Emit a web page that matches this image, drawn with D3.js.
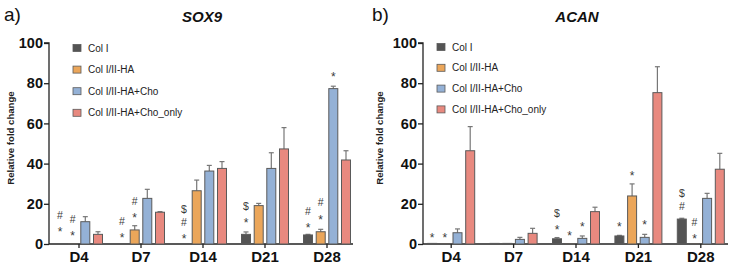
<!DOCTYPE html>
<html><head><meta charset="utf-8">
<script src="https://cdn.jsdelivr.net/npm/d3@7"></script>
<style>body{margin:0;background:#fff}svg{display:block}text{font-family:"Liberation Sans",Arial,sans-serif}</style>
</head><body>
<script>
const days = ["D4","D7","D14","D21","D28"];
const seriesNames = ["Col I","Col I/II-HA","Col I/II-HA+Cho","Col I/II-HA+Cho_only"];
const colors = ["#545454","#EBA65A","#94B1D6","#E8897F"];
const yTicks = [0,20,40,60,80,100];

// SOX9 means and upper error values, indexed [series][day]
const sox9Mean = [
  [0.2,0.2,0.2,4.8,4.5],
  [0.2,7.0,26.5,19.1,6.1],
  [11.1,22.7,36.3,37.6,77.3],
  [4.8,15.8,37.6,47.3,41.8]
];
const sox9Err = [
  [0,0,0,1.2,0.3],
  [0,2.1,5.3,1.1,1.2],
  [2.5,4.5,2.8,7.8,1.2],
  [1.3,0.3,3.4,10.6,4.6]
];
// ACAN
const acanMean = [
  [0.3,0.3,2.6,4.0,12.4],
  [0.2,0.3,0.2,23.9,0.2],
  [5.6,2.3,2.8,3.3,22.7],
  [46.4,5.3,16.1,75.3,37.2]
];
const acanErr = [
  [0,0,0.6,0.3,0.4],
  [0,0,0,6.0,0],
  [1.9,1.0,1.2,1.5,2.5],
  [12.0,2.5,2.2,12.9,7.9]
];
// significance marks: [dayIndex, seriesIndex, symbols bottom-to-top, y level (value units) of lowest symbol]
const sox9Marks = [
  [0,0,["*","#"],7.5],[0,1,["*","#"],5.5],
  [1,0,["*","#"],4.5],[1,1,["*","#"],14.8],
  [2,0,["*","#","$"],4.0],
  [3,0,["*","$"],12.3],
  [4,0,["*","#"],9.5],[4,1,["*","#"],13.9],[4,2,["*"],84.9]
];
const acanMarks = [
  [0,0,["*"],4.5],[0,1,["*"],4.5],
  [2,0,["*","$"],8.6],[2,1,["*"],5.6],[2,2,["*"],10.3],
  [3,0,["*"],10.3],[3,1,["*"],35.7],[3,2,["*"],11.4],
  [4,0,["#","$"],18.6],[4,1,["*","#"],4.0]
];

const W=733,H=267;
const svg=d3.select("body").append("svg").attr("width",W).attr("height",H);

function panel(opt){
  const g=svg.append("g");
  const y=d3.scaleLinear().domain([0,100]).range([244,43]);
  const x=d3.scaleBand().domain(days).range([opt.x0,opt.x0+5*opt.step]).paddingInner(0).paddingOuter(0);
  const off=[-19,-6.3,6.3,19];
  const bw=9;
  const ya=g.append("g").attr("transform",`translate(${opt.ax},0)`)
    .call(d3.axisLeft(y).tickValues(yTicks).tickSize(5).tickPadding(1));
  ya.select(".domain").attr("stroke","#222").attr("stroke-width",1.3).attr("d",`M-5,${y(100)}H0V${y(0)}`);
  ya.selectAll(".tick line").attr("stroke","#222").attr("stroke-width",1.3);
  ya.selectAll(".tick text").attr("font-size",14.5).attr("font-weight","bold").attr("fill","#111")
    .attr("font-family","'Liberation Sans',Arial,sans-serif");
  const xa=g.append("g").attr("transform",`translate(0,${y(0)})`)
    .call(d3.axisBottom(x).tickSize(4).tickPadding(3));
  xa.select(".domain").attr("stroke","#222").attr("stroke-width",1.3).attr("d",`M${opt.ax},0H${opt.axEnd}`);
  xa.selectAll(".tick line").attr("stroke","#222").attr("stroke-width",1.3);
  xa.selectAll(".tick text").attr("font-size",15).attr("font-weight","bold").attr("fill","#111")
    .attr("font-family","'Liberation Sans',Arial,sans-serif");
  const cx=(d,s)=>x(d)+x.bandwidth()/2+off[s];
  opt.mean.forEach((vals,s)=>{
    vals.forEach((v,i)=>{
      const d=days[i];
      const xc=cx(d,s);
      const e=opt.err[s][i];
      if(e>0){
        g.append("line").attr("x1",xc).attr("x2",xc).attr("y1",y(v)).attr("y2",y(v+e)).attr("stroke","#777").attr("stroke-width",1.2);
        g.append("line").attr("x1",xc-2.5).attr("x2",xc+2.5).attr("y1",y(v+e)).attr("y2",y(v+e)).attr("stroke","#777").attr("stroke-width",1.2);
      }
      g.append("rect").attr("x",xc-bw/2).attr("y",y(v)).attr("width",bw).attr("height",y(0)-y(v))
        .attr("fill",colors[s]).attr("stroke","#5a5a5a").attr("stroke-width",1);
    });
  });
  opt.marks.forEach(([di,s,syms,lvl])=>{
    const xc=cx(days[di],s);
    syms.forEach((sym,k)=>{
      g.append("text").attr("x",xc).attr("y",y(lvl)-k*13.3).attr("dy",sym==="*"?"0.62em":"0.35em")
        .attr("text-anchor","middle").attr("font-size",sym==="*"?12:10.5)
        .attr("font-family","'DejaVu Sans',sans-serif").attr("fill","#3a3a3a").text(sym);
    });
  });
  g.append("text").attr("x",opt.lx).attr("y",21).attr("font-size",19).attr("fill","#111").text(opt.letter);
  g.append("text").attr("x",opt.tx).attr("y",22).attr("text-anchor","middle").attr("font-size",15)
    .attr("font-weight","bold").attr("font-style","italic").attr("fill","#111").text(opt.title);
  g.append("text").attr("transform",`translate(${opt.yl},${138}) rotate(-90)`).attr("text-anchor","middle")
    .attr("font-size",9.6).attr("font-weight","bold").attr("fill","#222").text("Relative fold change");
  seriesNames.forEach((n,s)=>{
    const yy=opt.legY+s*opt.legStep;
    g.append("rect").attr("x",opt.legX).attr("y",yy-3.5).attr("width",8).attr("height",7)
      .attr("fill",colors[s]).attr("stroke","#5a5a5a").attr("stroke-width",0.8);
    g.append("text").attr("x",opt.legX+15).attr("y",yy).attr("dy","0.35em").attr("font-size",10).attr("fill","#222").text(n);
  });
}

panel({ax:49,axEnd:353,x0:48,step:62,mean:sox9Mean,err:sox9Err,marks:sox9Marks,
  letter:"a)",lx:4,title:"SOX9",tx:202,yl:13.5,legX:73,legY:48,legStep:21.6});
panel({ax:423,axEnd:728,x0:420,step:62.4,mean:acanMean,err:acanErr,marks:acanMarks,
  letter:"b)",lx:372,title:"ACAN",tx:577,yl:383,legX:437,legY:47,legStep:20.8});
</script>
</body></html>
